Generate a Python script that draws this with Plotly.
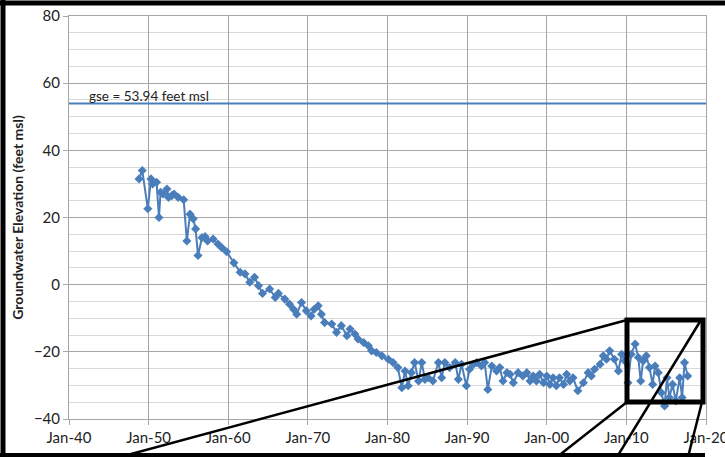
import plotly.graph_objects as go

# ---- data ----
YEARS = [
    1948.8, 1949.2, 1949.9, 1950.3, 1950.5, 1951.0, 1951.3, 1951.5, 1951.8, 1952.3,
    1952.5, 1952.9, 1953.2, 1953.7, 1954.4, 1954.8, 1955.2, 1955.6, 1955.9, 1956.2,
    1956.7, 1957.1, 1957.4, 1958.1, 1958.7, 1959.2, 1959.8, 1960.7, 1961.5, 1962.1,
    1962.7, 1963.3, 1963.8, 1964.3, 1965.2, 1965.9, 1966.3, 1967.1, 1967.7, 1968.2,
    1968.6, 1969.2, 1969.8, 1970.4, 1970.8, 1971.3, 1971.7, 1972.1, 1973.0, 1973.6,
    1974.2, 1974.9, 1975.3, 1975.9, 1976.3, 1977.0, 1977.6, 1978.0, 1978.6, 1979.3,
    1980.1, 1980.7, 1981.3, 1981.8, 1982.2, 1982.6, 1983.0, 1983.4, 1983.9, 1984.3,
    1984.7, 1985.1, 1985.7, 1986.4, 1986.8, 1987.2, 1987.8, 1988.5, 1988.9, 1989.3,
    1989.9, 1990.3, 1990.8, 1991.2, 1991.8, 1992.2, 1992.6, 1993.1, 1993.7, 1994.1,
    1994.5, 1995.0, 1995.4, 1995.8, 1996.4, 1997.0, 1997.5, 1997.9, 1998.3, 1998.7,
    1999.1, 1999.6, 2000.0, 2000.4, 2000.8, 2001.2, 2001.6, 2002.1, 2002.5, 2002.9,
    2003.3, 2003.9, 2004.6, 2005.2, 2005.6, 2006.0, 2006.7, 2007.1, 2007.5, 2007.9,
    2008.5, 2009.0, 2009.4, 2009.8, 2010.2, 2010.6, 2011.1, 2011.5, 2011.8, 2012.1,
    2012.5, 2012.9, 2013.3, 2013.6, 2014.0, 2014.4, 2014.8, 2015.1, 2015.4, 2015.8,
    2016.2, 2016.7, 2017.0, 2017.3, 2017.7,
]
ELEV = [
    31.5, 34.0, 22.6, 31.5, 30.0, 30.5, 20.0, 27.5, 27.0, 28.5,
    26.0, 26.5, 27.0, 26.0, 25.3, 13.0, 21.0, 19.6, 16.6, 8.7,
    14.0, 14.3, 13.0, 13.6, 12.1, 11.0, 9.8, 6.5, 3.7, 3.2,
    0.7, 2.2, -0.3, -2.6, -1.3, -3.8, -2.6, -4.3, -5.8, -7.3,
    -8.8, -5.3, -7.8, -9.3, -7.3, -6.3, -8.8, -11.3, -11.7, -14.2,
    -12.2, -15.2, -13.2, -14.7, -16.2, -17.2, -18.2, -19.7, -20.2, -21.2,
    -22.2, -23.2, -24.7, -30.7, -25.7, -30.1, -26.2, -23.2, -28.7, -23.2,
    -28.2, -27.7, -28.7, -23.2, -27.7, -23.2, -24.7, -23.2, -28.2, -23.7,
    -30.1, -25.2, -23.7, -23.2, -24.2, -23.2, -31.2, -24.2, -25.7, -24.7,
    -28.7, -26.2, -26.7, -29.2, -26.2, -27.2, -26.2, -28.7, -27.2, -28.7,
    -26.7, -29.2, -27.2, -29.7, -27.7, -30.1, -27.7, -29.7, -26.7, -28.7,
    -27.7, -31.6, -29.2, -26.2, -27.2, -25.2, -23.7, -21.2, -22.2, -19.7,
    -22.2, -25.7, -20.7, -22.7, -29.2, -20.7, -17.7, -21.7, -28.7, -22.7,
    -21.2, -24.7, -29.7, -24.2, -26.2, -32.2, -36.1, -27.7, -33.6, -29.7,
    -34.6, -27.7, -33.6, -23.2, -27.2,
]
GSE = 53.94
GSE_LABEL = "gse = 53.94 feet msl"
TICK_YEARS = [1940, 1950, 1960, 1970, 1980, 1990, 2000, 2010, 2020]
TICK_TEXT = ["Jan-40", "Jan-50", "Jan-60", "Jan-70", "Jan-80", "Jan-90", "Jan-00", "Jan-10", "Jan-20"]
Y_TITLE = "Groundwater Elevation (feet msl)"

W, H = 725, 457
L, R, T, B = 69, 19, 16, 38
PW, PH = W - L - R, H - T - B

def px(x, y):
    """pixel position in the page -> paper coordinates"""
    return (x - L) / PW, (H - B - y) / PH

BLUE = "#4a7ebb"
FONT = "Lato"

fig = go.Figure()
fig.add_trace(go.Scatter(
    x=YEARS, y=ELEV, mode="lines+markers",
    line=dict(color=BLUE, width=2),
    marker=dict(symbol="diamond", size=7, color=BLUE),
    showlegend=False, hoverinfo="skip",
))
fig.add_hline(y=GSE, line=dict(color=BLUE, width=2), layer="above")
fig.add_annotation(x=1942.2, y=GSE, xref="x", yref="y", text=GSE_LABEL,
                   showarrow=False, xanchor="left", yanchor="bottom", yshift=-2,
                   font=dict(family=FONT, size=13.5, color="#222"))

# overlay callout (thick black frame, zoom box and connector lines)
def seg(x0, y0, x1, y1, w):
    a = px(x0, y0); b = px(x1, y1)
    fig.add_shape(type="line", xref="paper", yref="paper",
                  x0=a[0], y0=a[1], x1=b[0], y1=b[1],
                  line=dict(color="black", width=w), layer="above")

seg(0, 3, W, 3, 5)
seg(3, 0, 3, H, 5)
seg(0, 455, 705, 455, 4)
seg(627, 320, 120, H, 2.5)
seg(627, 402, 557, H, 2.5)
seg(701, 320, 617, H, 2.5)
seg(702, 402, 688, H, 2.5)
a = px(627, 320); b = px(703, 402)
fig.add_shape(type="rect", xref="paper", yref="paper", x0=a[0], y0=a[1], x1=b[0], y1=b[1],
              line=dict(color="black", width=5), layer="above")

fig.update_layout(
    width=W, height=H,
    margin=dict(l=L, r=R, t=T, b=B, pad=0, autoexpand=False),
    paper_bgcolor="white", plot_bgcolor="white",
    font=dict(family=FONT, size=15, color="#222"),
)
fig.update_xaxes(
    range=[1940, 2020], tickvals=TICK_YEARS, ticktext=TICK_TEXT,
    showgrid=True, gridcolor="#a6a6a6", gridwidth=1,
    showline=True, mirror=True, linecolor="#a6a6a6", linewidth=1,
    ticks="outside", ticklen=5, tickcolor="#a6a6a6",
    zeroline=False, tickfont=dict(size=15), ticklabeloverflow="allow",
    automargin=False,
)
fig.update_yaxes(
    range=[-40, 80], dtick=20,
    showgrid=True, gridcolor="#a6a6a6", gridwidth=1,
    minor=dict(dtick=5, showgrid=True, gridcolor="#d9d9d9", gridwidth=1),
    showline=True, mirror=True, linecolor="#a6a6a6", linewidth=1,
    ticks="outside", ticklen=5, tickcolor="#a6a6a6",
    zeroline=False, tickfont=dict(size=15), automargin=False,
    title=dict(text="<b>" + Y_TITLE + "</b>", font=dict(size=14), standoff=6),
)

fig.write_html("out.html", config={"displayModeBar": False},
               post_script="document.body.style.margin='0px';")
